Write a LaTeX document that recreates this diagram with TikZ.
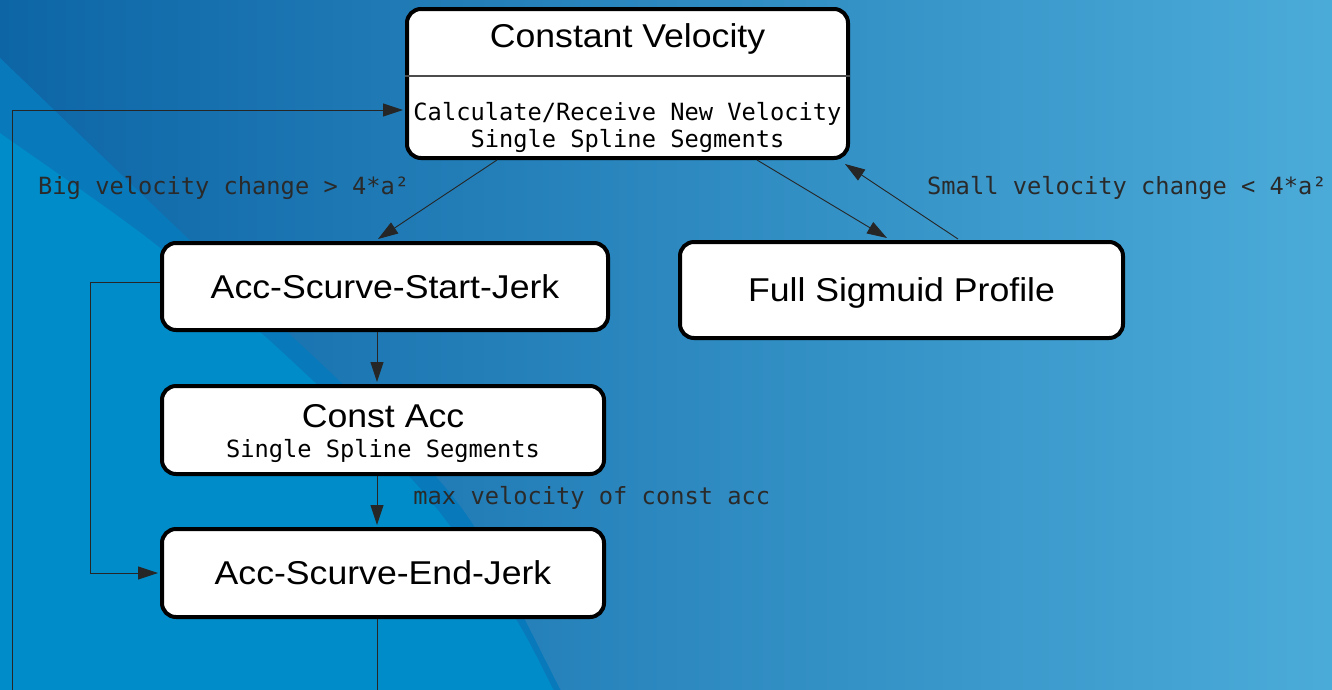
\documentclass[tikz,border=0pt]{standalone}
\usepackage{fontspec}
\newfontfamily\boxfont[FakeStretch=1.08]{Liberation Sans}
\newfontfamily\dvmono{DejaVu Sans Mono}
\usetikzlibrary{arrows.meta,calc}
\definecolor{bgL}{RGB}{12,100,165}
\definecolor{bgR}{RGB}{76,172,217}
\definecolor{bandA}{RGB}{8,122,188}
\definecolor{bandB}{RGB}{0,140,200}
\definecolor{lblgray}{RGB}{42,42,42}
\begin{document}
\begin{tikzpicture}[x=1pt,y=-1pt,
  box/.style={draw=black, line width=4pt, fill=white, rounded corners=14pt, inner sep=0pt},
  boxtxt/.style={font=\boxfont\fontsize{33}{38}\selectfont, text=black},
  monotxt/.style={font=\dvmono\fontsize{23.7}{28}\selectfont, text=black},
  lbl/.style={font=\dvmono\fontsize{23.7}{28}\selectfont, text=lblgray, anchor=west, inner sep=0pt},
  conn/.style={draw=black!85, line width=0.9pt, -{Triangle[length=20pt,width=13pt]}}]
\useasboundingbox (0,0) rectangle (1332,689);
\clip (0,0) rectangle (1332,689);
% background
\shade[left color=bgL, right color=bgR] (-20,-20) rectangle (1352,720);
\fill[bandA] plot[smooth] coordinates {(-20,40) (0,58) (200,250) (380,420) (470,520) (560,689) (575,720)} -- (-20,720) -- cycle;
\fill[bandB] plot[smooth] coordinates {(-20,118) (0,133) (150,240) (280,350) (417,485) (510,610) (553,689) (568,720)} -- (-20,720) -- cycle;

% boxes
\node[box, minimum width=441pt, minimum height=149pt] (cv) at (627.5,83.5) {};
\coordinate (divy) at (0,76);
\draw[line width=1.5pt, black!70] (cv.west |- divy) -- (cv.east |- divy);
\node[boxtxt, anchor=base] (cvtitle) at (627.5,47) {Constant Velocity};
\node[monotxt, anchor=base] (cvbodyA) at (627.5,120) {Calculate/Receive New Velocity};
\node[monotxt, anchor=base] (cvbodyB) at (627.5,147) {Single Spline Segments};

\node[box, boxtxt, minimum width=446pt, minimum height=87pt, text height=23.6pt, text depth=0pt] (start) at (385,286.5) {Acc-Scurve-Start-Jerk};
\node[box, boxtxt, minimum width=443pt, minimum height=96pt, text height=23.6pt, text depth=0pt] (full) at (901.5,290) {Full Sigmuid Profile};
\node[box, minimum width=442pt, minimum height=88pt] (constacc) at (383,430) {};
\node[boxtxt, anchor=base] (catitle) at (383,427) {Const Acc};
\node[monotxt, anchor=base] (cabody) at (383,457) {Single Spline Segments};
\node[box, boxtxt, minimum width=442pt, minimum height=88pt, text height=23.6pt, text depth=0pt] (endj) at (383,573) {Acc-Scurve-End-Jerk};

% labels
\node[lbl] (biglbl) at (38,188) {Big velocity change > 4*a²};
\node[lbl] (smalllbl) at (927,188) {Small velocity change < 4*a²};

% connectors
\draw[conn] ([xshift=-130.5pt]cv.south) -- ([xshift=-7pt,yshift=2pt]start.north);
\draw[conn] ([xshift=129.5pt]cv.south) -- ([xshift=-14.5pt,yshift=2pt]full.north);
\draw[conn] ([xshift=56.5pt,yshift=1pt]full.north) -- ([xshift=-5pt,yshift=-4pt]cv.south east);
\draw[conn] ([xshift=-8pt]start.south) -- ([xshift=-6pt,yshift=2pt]constacc.north);
\draw[conn] ([xshift=-6pt]constacc.south) -- ([xshift=-6pt,yshift=2pt]endj.north)
  node[lbl, pos=0.45, xshift=36pt] (maxlbl) {max velocity of const acc};
\draw[conn] ([yshift=4.5pt]start.west) -- ++(-70,0) |- ([xshift=-2pt]endj.west);
\coordinate (loopbl) at (12,900);
\draw[conn] ([xshift=-6pt]endj.south) |- (loopbl) |- ([xshift=-2pt,yshift=-26.5pt]cv.west);
\end{tikzpicture}
\end{document}
